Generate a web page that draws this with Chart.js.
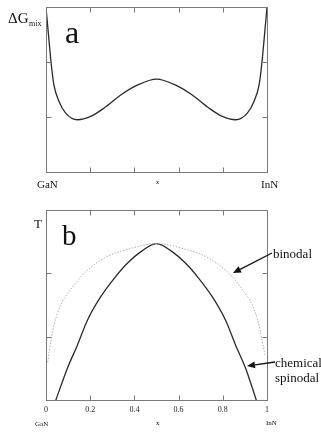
<!DOCTYPE html>
<html>
<head>
<meta charset="utf-8">
<script src="https://cdn.jsdelivr.net/npm/chart.js@4.4.1/dist/chart.umd.min.js"></script>
<style>
  body { margin: 0; background: #fff; width: 321px; height: 432px; overflow: hidden; position: relative; }
  canvas { position: absolute; left: 0; }
  #chart-a { top: 0; }
  #chart-b { top: 200px; }
</style>
</head>
<body>
<canvas id="chart-a" width="321" height="200"></canvas>
<canvas id="chart-b" width="321" height="232"></canvas>
<script>
// panel a: free energy of mixing vs x
const xA = [0, 0.003, 0.014, 0.024, 0.036, 0.059, 0.089, 0.142, 0.202, 0.262, 0.338, 0.413, 0.5,
            0.587, 0.662, 0.738, 0.798, 0.858, 0.911, 0.941, 0.964, 0.976, 0.986, 0.997, 1];
const gA = [3.0, 2.86, 2.37, 1.95, 1.58, 1.28, 1.07, 0.95, 1.01, 1.16, 1.40, 1.58, 1.69,
            1.58, 1.40, 1.16, 1.01, 0.95, 1.07, 1.28, 1.58, 1.95, 2.37, 2.86, 3.0];

// panel b: binodal and chemical spinodal
const xBin = [0.008, 0.014, 0.036, 0.066, 0.11, 0.172, 0.262, 0.368, 0.5,
              0.632, 0.738, 0.828, 0.89, 0.934, 0.964, 0.986, 0.992];
const tBin = [0.6, 0.76, 1.18, 1.5, 1.74, 2.0, 2.24, 2.38, 2.47,
              2.38, 2.24, 2.0, 1.74, 1.5, 1.18, 0.8, 0.7];
const xSpin = [0.044, 0.096, 0.142, 0.187, 0.247, 0.308, 0.368, 0.428, 0.5,
               0.572, 0.632, 0.692, 0.753, 0.813, 0.858, 0.904, 0.952];
const tSpin = [0, 0.5, 0.87, 1.26, 1.63, 1.92, 2.16, 2.34, 2.47,
               2.34, 2.16, 1.92, 1.63, 1.26, 0.87, 0.5, 0];

const xTickVals = [0.2, 0.4, 0.6, 0.8];
const yTickVals = [1, 2];
const xTickLabels = ['0', '0.2', '0.4', '0.6', '0.8', '1'];

const SERIF = "'Liberation Serif', 'Times New Roman', serif";

function pts(xs, ys) {
  return xs.map((x, i) => ({ x: x, y: ys[i] }));
}

// box, inward ticks, labels and arrows
const framePlugin = {
  id: 'frame',
  afterDraw(chart, args, opts) {
    const ctx = chart.ctx;
    const a = chart.chartArea;
    const sx = chart.scales.x, sy = chart.scales.y;
    const L = Math.round(a.left) + 0.5, R = Math.round(a.right) + 0.5;
    const T = Math.round(a.top) + 0.5, B = Math.round(a.bottom) + 0.5;
    ctx.save();
    ctx.strokeStyle = '#7a7a7a';
    ctx.lineWidth = 1;
    ctx.strokeRect(L, T, R - L, B - T);
    ctx.beginPath();
    xTickVals.forEach(v => {
      const px = Math.round(sx.getPixelForValue(v)) + 0.5;
      ctx.moveTo(px, T); ctx.lineTo(px, T + 5);
      ctx.moveTo(px, B); ctx.lineTo(px, B - 5);
    });
    yTickVals.forEach(v => {
      const py = Math.round(sy.getPixelForValue(v)) + 0.5;
      ctx.moveTo(L, py); ctx.lineTo(L + 5, py);
      ctx.moveTo(R, py); ctx.lineTo(R - 5, py);
    });
    ctx.stroke();

    ctx.fillStyle = '#111';
    ctx.textBaseline = 'alphabetic';
    (opts.texts || []).forEach(t => {
      ctx.font = t.size + 'px ' + SERIF;
      ctx.fillText(t.text, t.x, t.y);
    });

    (opts.arrows || []).forEach(ar => {
      const ang = Math.atan2(ar.y2 - ar.y1, ar.x2 - ar.x1);
      const hl = 8, hw = 3.5;
      const bx = ar.x2 - hl * Math.cos(ang), by = ar.y2 - hl * Math.sin(ang);
      ctx.strokeStyle = '#111';
      ctx.lineWidth = 1.3;
      ctx.beginPath();
      ctx.moveTo(ar.x1, ar.y1); ctx.lineTo(bx, by);
      ctx.stroke();
      ctx.beginPath();
      ctx.moveTo(ar.x2, ar.y2);
      ctx.lineTo(bx + hw * Math.sin(ang), by - hw * Math.cos(ang));
      ctx.lineTo(bx - hw * Math.sin(ang), by + hw * Math.cos(ang));
      ctx.closePath();
      ctx.fill();
    });
    ctx.restore();
  }
};

new Chart(document.getElementById('chart-a'), {
  type: 'line',
  data: {
    datasets: [{
      data: pts(xA, gA),
      borderColor: '#2a2a2a',
      borderWidth: 1.3,
      pointRadius: 0,
      cubicInterpolationMode: 'monotone',
      fill: false
    }]
  },
  options: {
    responsive: false,
    animation: false,
    layout: { padding: { left: 46, top: 7, right: 54, bottom: 28 } },
    scales: {
      x: { type: 'linear', min: 0, max: 1, display: false },
      y: { min: 0, max: 3, display: false }
    },
    plugins: {
      legend: { display: false },
      tooltip: { enabled: false },
      frame: {
        texts: [
          { text: '\u0394G', x: 8, y: 23, size: 15 },
          { text: 'mix', x: 29, y: 26, size: 8 },
          { text: 'a', x: 65, y: 43, size: 32 },
          { text: 'GaN', x: 37, y: 188, size: 11 },
          { text: 'x', x: 156, y: 184, size: 6 },
          { text: 'InN', x: 261, y: 188, size: 11 }
        ]
      }
    }
  },
  plugins: [framePlugin]
});

new Chart(document.getElementById('chart-b'), {
  type: 'line',
  data: {
    datasets: [{
      label: 'binodal',
      data: pts(xBin, tBin),
      borderColor: '#b0b0b0',
      borderWidth: 1,
      borderDash: [1.5, 1.5],
      pointRadius: 0,
      cubicInterpolationMode: 'monotone',
      fill: false
    }, {
      label: 'chemical spinodal',
      data: pts(xSpin, tSpin),
      borderColor: '#2a2a2a',
      borderWidth: 1.3,
      pointRadius: 0,
      cubicInterpolationMode: 'monotone',
      fill: false
    }]
  },
  options: {
    responsive: false,
    animation: false,
    layout: { padding: { left: 46, top: 10, right: 54, bottom: 12 } },
    scales: {
      x: {
        type: 'linear', min: 0, max: 1,
        grid: { display: false, drawTicks: false },
        border: { display: false },
        ticks: {
          stepSize: 0.2, autoSkip: false, maxRotation: 0, padding: 5,
          color: '#222',
          font: { family: SERIF, size: 8 },
          callback: (v, i) => xTickLabels[i]
        }
      },
      y: { min: 0, max: 3, display: false }
    },
    plugins: {
      legend: { display: false },
      tooltip: { enabled: false },
      frame: {
        texts: [
          { text: 'T', x: 34, y: 28, size: 13 },
          { text: 'b', x: 62, y: 45, size: 29 },
          { text: 'binodal', x: 273, y: 58, size: 13 },
          { text: 'chemical', x: 275, y: 167, size: 13 },
          { text: 'spinodal', x: 275, y: 182, size: 13 },
          { text: 'GaN', x: 35, y: 226, size: 7 },
          { text: 'x', x: 156, y: 225, size: 7 },
          { text: 'InN', x: 266, y: 225, size: 7 }
        ],
        arrows: [
          { x1: 272, y1: 53, x2: 233, y2: 73 },
          { x1: 275, y1: 162, x2: 247, y2: 166 }
        ]
      }
    }
  },
  plugins: [framePlugin]
});
</script>
</body>
</html>
